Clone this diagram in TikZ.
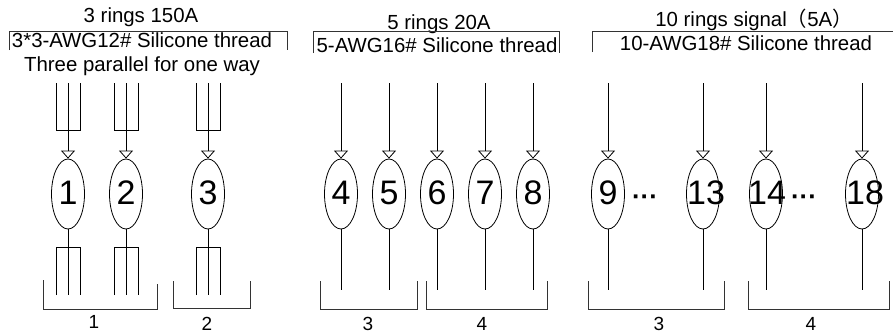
\documentclass[tikz,border=0pt]{standalone}
\usepackage{fontspec}
\setmainfont{Liberation Sans}
\newfontfamily\cjkfont{Noto Sans CJK SC}
\usetikzlibrary{arrows.meta,shapes.geometric}

\begin{document}
\begin{tikzpicture}[
  x=1pt, y=-1pt,
  line width=0.8pt,
  ring/.style ={draw, ellipse, inner sep=0pt, minimum width=33pt, minimum height=70pt, text height=24pt, text depth=3pt, font=\fontsize{34}{38}\selectfont},
  title/.style={inner sep=0pt, text height=15pt, text depth=4.5pt, font=\fontsize{20.4}{24}\selectfont},
  count/.style={inner sep=0pt, text height=14pt, text depth=0pt, font=\fontsize{19}{23}\selectfont},
  gap/.style  ={inner sep=0pt, font=\fontsize{26}{30}\selectfont\bfseries},
  bracket/.style={line width=0.9pt, black!80},
  >={Triangle[open,length=8pt,width=14pt]}
]
\useasboundingbox (0,0) rectangle (893,333);

% headings and top brackets
\node[title] (head1) at (141,17.5) {3 rings 150A};
\node[title] (wire1) at (142,42) {3*3-AWG12\# Silicone thread};
\node[title] (para1) at (142,66) {Three parallel for one way};
\node[title] (head2) at (439,24) {5 rings 20A};
\node[title] (wire2) at (437,47) {5-AWG16\# Silicone thread};
\node[title] (head3) at (754,21) {10 rings signal{\cjkfont （}5A{\cjkfont ）}};
\node[title] (wire3) at (746,45) {10-AWG18\# Silicone thread};
\draw[bracket] (9,50) |- (287,31) -- (287,50);
\draw[bracket] (313,53) |- (559,31) -- (559,53);
\draw[bracket] (592,52) |- (893,31);

% rings
\node[ring] (r1)  at (68,194)  {\makebox[0pt]{1}};
\node[ring] (r2)  at (126,194) {\makebox[0pt]{2}};
\node[ring] (r3)  at (208,194) {\makebox[0pt]{3}};
\node[ring] (r4)  at (341,194) {\makebox[0pt]{4}};
\node[ring] (r5)  at (389,194) {\makebox[0pt]{5}};
\node[ring] (r6)  at (437,194) {\makebox[0pt]{6}};
\node[ring] (r7)  at (485,194) {\makebox[0pt]{7}};
\node[ring] (r8)  at (533,194) {\makebox[0pt]{8}};
\node[ring] (r9)  at (608,194) {\makebox[0pt]{9}};
\node[ring] (r13) at (703,194) {\makebox[0pt]{\hspace{6pt}13}};
\node[ring] (r14) at (766,194) {\makebox[0pt]{\hspace{2pt}14}};
\node[ring] (r18) at (862,194) {\makebox[0pt]{\hspace{6pt}18}};
\node[gap] (dots1) at (645,200) {···};
\node[gap] (dots2) at (804,200) {···};

% free ends of the threads
\coordinate (t1) at (68,83);   \coordinate (b1) at (68,295);
\coordinate (t2) at (126,83);  \coordinate (b2) at (126,295);
\coordinate (t3) at (208,83);  \coordinate (b3) at (208,295);
\coordinate (t4) at (341,83);  \coordinate (b4) at (341,290);
\coordinate (t5) at (389,83);  \coordinate (b5) at (389,290);
\coordinate (t6) at (437,83);  \coordinate (b6) at (437,290);
\coordinate (t7) at (485,83);  \coordinate (b7) at (485,290);
\coordinate (t8) at (533,83);  \coordinate (b8) at (533,290);
\coordinate (t9) at (608,83);  \coordinate (b9) at (608,290);
\coordinate (t13) at (703,83); \coordinate (b13) at (703,290);
\coordinate (t14) at (766,83); \coordinate (b14) at (766,290);
\coordinate (t18) at (862,83); \coordinate (b18) at (862,290);

% forks of the three parallel rings
\coordinate (j1) at (68,130);  \coordinate (k1) at (68,247);
\coordinate (j2) at (126,130); \coordinate (k2) at (126,247);
\coordinate (j3) at (208,130); \coordinate (k3) at (208,247);
\draw ([xshift=-12pt]t1) |- ([xshift=12pt]j1) -- ([xshift=12pt]t1);
\draw ([xshift=-12pt]t2) |- ([xshift=12pt]j2) -- ([xshift=12pt]t2);
\draw ([xshift=-12pt]t3) |- ([xshift=12pt]j3) -- ([xshift=12pt]t3);
\draw ([xshift=-12pt]b1) |- ([xshift=12pt]k1) -- ([xshift=12pt]b1);
\draw ([xshift=-12pt]b2) |- ([xshift=12pt]k2) -- ([xshift=12pt]b2);
\draw ([xshift=-12pt]b3) |- ([xshift=12pt]k3) -- ([xshift=12pt]b3);

% threads
\draw[->] (t1) -- (r1.north);   \draw (r1.south) -- (b1);
\draw[->] (t2) -- (r2.north);   \draw (r2.south) -- (b2);
\draw[->] (t3) -- (r3.north);   \draw (r3.south) -- (b3);
\draw[->] (t4) -- (r4.north);   \draw (r4.south) -- (b4);
\draw[->] (t5) -- (r5.north);   \draw (r5.south) -- (b5);
\draw[->] (t6) -- (r6.north);   \draw (r6.south) -- (b6);
\draw[->] (t7) -- (r7.north);   \draw (r7.south) -- (b7);
\draw[->] (t8) -- (r8.north);   \draw (r8.south) -- (b8);
\draw[->] (t9) -- (r9.north);   \draw (r9.south) -- (b9);
\draw[->] (t13) -- (r13.north); \draw (r13.south) -- (b13);
\draw[->] (t14) -- (r14.north); \draw (r14.south) -- (b14);
\draw[->] (t18) -- (r18.north); \draw (r18.south) -- (b18);

% bottom brackets
\draw[bracket] (43,280) |- (157,309) -- (157,284);
\draw[bracket] (173,281) |- (250,308) -- (250,281);
\draw[bracket] (320,281) |- (417,309) -- (417,281);
\draw[bracket] (426,281) |- (547,309) -- (547,281);
\draw[bracket] (588,281) |- (724,309) -- (724,281);
\draw[bracket] (748,281) |- (889,309) -- (889,281);
\node[count] (n1) at (94,321.5) {1};
\node[count] (n2) at (207,323.5) {2};
\node[count] (n3) at (368,323.5) {3};
\node[count] (n4) at (482,323.5) {4};
\node[count] (n5) at (659,323.5) {3};
\node[count] (n6) at (811,323.5) {4};
\end{tikzpicture}
\end{document}
